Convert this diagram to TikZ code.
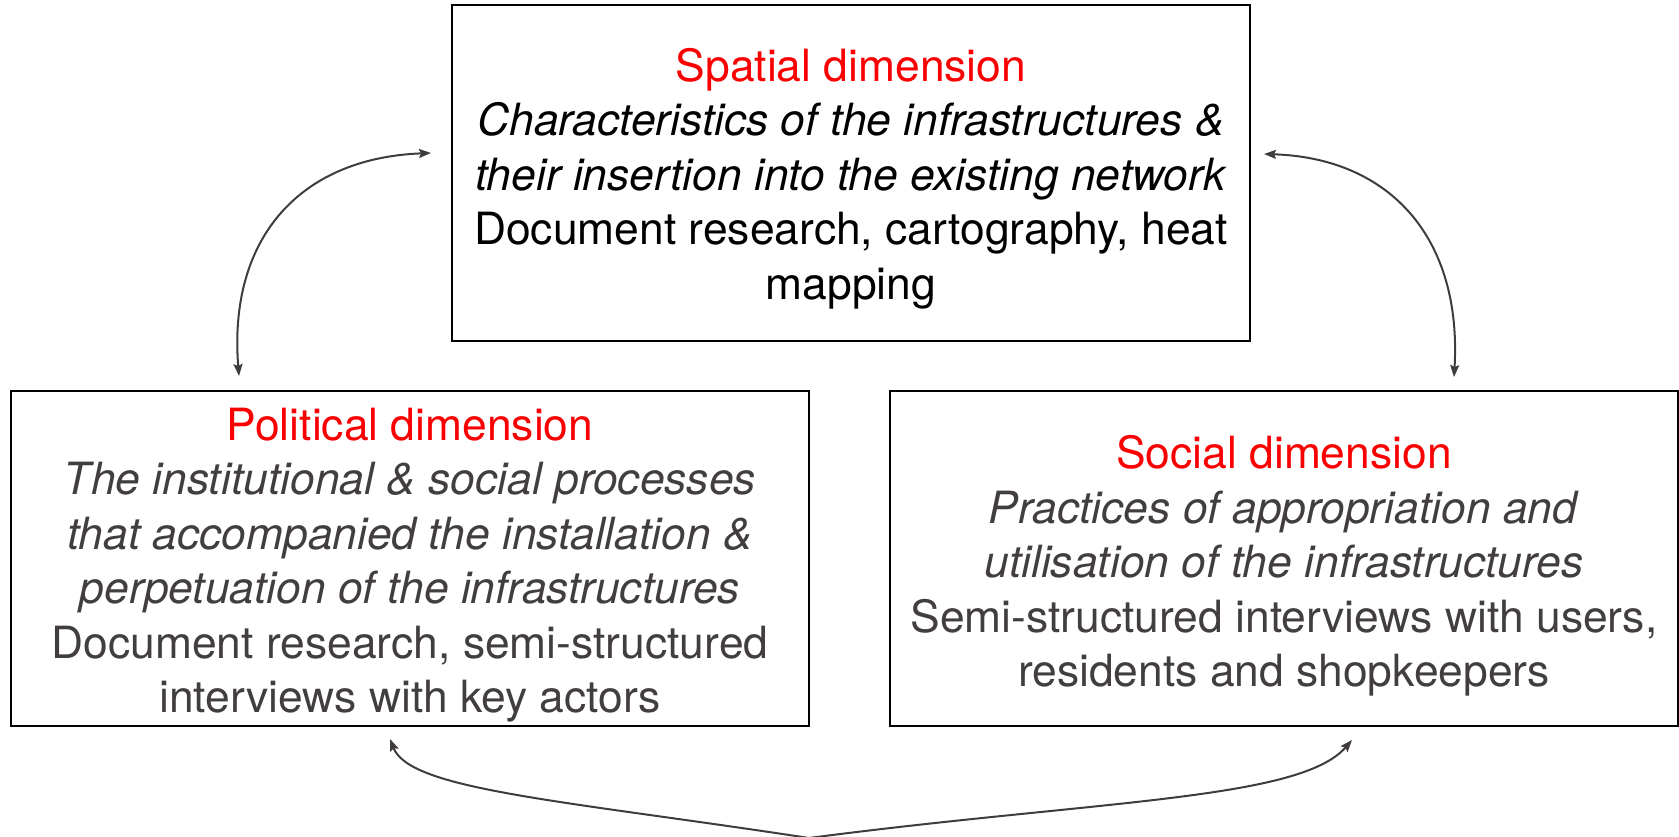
\documentclass[tikz,border=0pt]{standalone}
\usepackage{fontspec}
\setmainfont{TeX Gyre Heros}
\usetikzlibrary{arrows.meta}
\definecolor{txtgray}{RGB}{66,62,62}
\definecolor{titlered}{RGB}{250,0,0}
\definecolor{arrgray}{RGB}{64,60,60}
\begin{document}
\begin{tikzpicture}[x=1pt,y=-1pt,
  dimbox/.style={draw=black, line width=2pt, inner sep=0pt},
  dimtext/.style={inner sep=0pt, align=center,
    font=\fontsize{44.4}{54.5}\selectfont},
  link/.style={draw=arrgray, line width=2pt,
    {Stealth[length=12pt,width=9pt,inset=2pt]}-{Stealth[length=12pt,width=9pt,inset=2pt]}}]
\useasboundingbox (0,0) rectangle (1679,837);
\clip (0,0) rectangle (1679,837);
\node[dimbox, minimum width=798pt, minimum height=336pt] (spatial) at (851,173) {};
\node[dimtext, text=black] (spatialtext) at ([yshift=-5.5pt]spatial.center)
  {\textcolor{titlered}{Spatial dimension}\\
   \textit{Characteristics of the infrastructures \&}\\
   \textit{their insertion into the existing network}\\
   Document research, cartography, heat\\
   mapping};
\node[dimbox, minimum width=798pt, minimum height=335pt] (political) at (410,558.5) {};
\node[dimtext, text=txtgray] (politicaltext) at ([yshift=-6.5pt]political.center)
  {\textcolor{titlered}{Political dimension}\\
   \textit{The institutional \& social processes}\\
   \textit{that accompanied the installation \&}\\
   \textit{perpetuation of the infrastructures}\\
   Document research, semi-structured\\
   interviews with key actors};
\node[dimbox, minimum width=788pt, minimum height=335pt] (social) at (1284,558.5) {};
\node[dimtext, text=txtgray] (socialtext) at ([yshift=-7.5pt]social.center)
  {\textcolor{titlered}{Social dimension}\\
   \textit{Practices of appropriation and}\\
   \textit{utilisation of the infrastructures}\\
   Semi-structured interviews with users,\\
   residents and shopkeepers};
\coordinate (bot) at (809,838);
\draw[link] ([shift={(-20,-20)}]spatial.west) .. controls +(-132,5) and +(-11,-137) .. ([shift={(-171,-14)}]political.north);
\draw[link] ([shift={(13,-19)}]spatial.east) .. controls +(127,4) and +(8,-138) .. ([shift={(170,-13)}]social.north);
\draw[link] ([shift={(-20,12)}]political.south) .. controls (410,790) and (560,800) .. (bot)
  .. controls (1100,800) and (1300,800) .. ([shift={(68,13)}]social.south);
\end{tikzpicture}
\end{document}
